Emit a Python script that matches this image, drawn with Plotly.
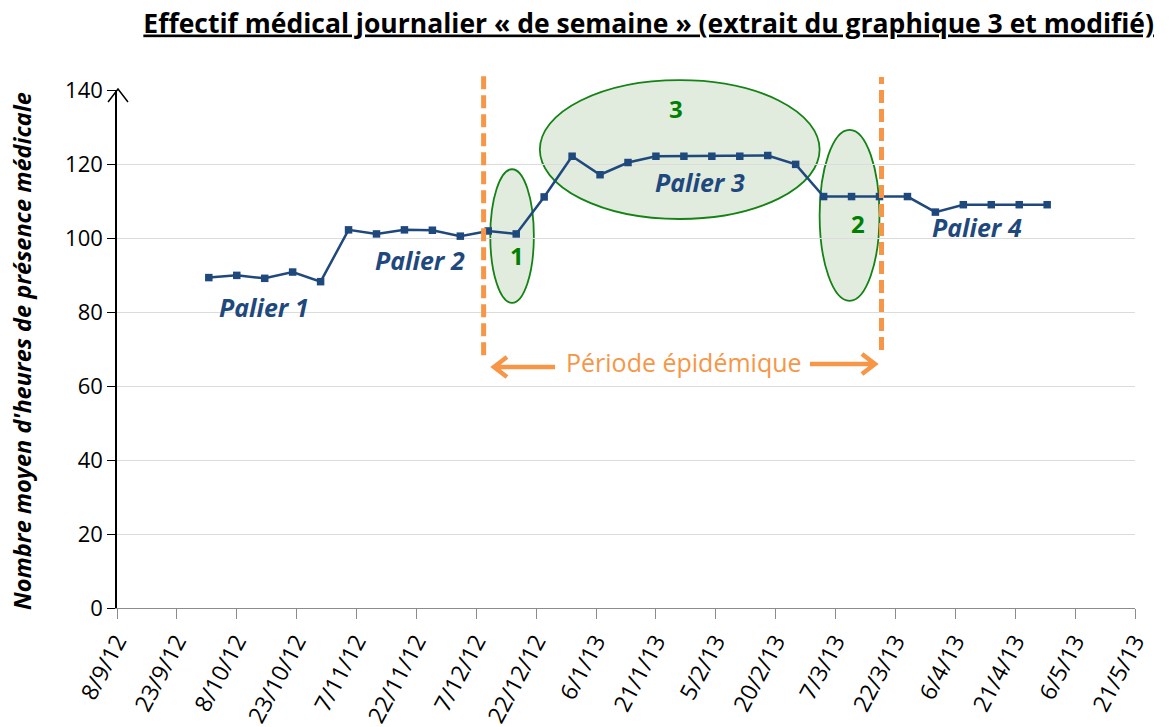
import plotly.graph_objects as go

# ---- data ----
dates = ["2012-10-01", "2012-10-08", "2012-10-15", "2012-10-22", "2012-10-29",
         "2012-11-05", "2012-11-12", "2012-11-19", "2012-11-26", "2012-12-03",
         "2012-12-10", "2012-12-17", "2012-12-24", "2012-12-31", "2013-01-07",
         "2013-01-14", "2013-01-21", "2013-01-28", "2013-02-04", "2013-02-11",
         "2013-02-18", "2013-02-25", "2013-03-04", "2013-03-11", "2013-03-18",
         "2013-03-25", "2013-04-01", "2013-04-08", "2013-04-15", "2013-04-22",
         "2013-04-29"]
heures = [89.3, 89.9, 89.1, 90.8, 88.2, 102.2, 101.1, 102.2, 102.1, 100.5,
          101.9, 101.1, 111.1, 122.1, 117.1, 120.4, 122.1, 122.1, 122.1, 122.1,
          122.3, 119.9, 111.2, 111.2, 111.2, 111.2, 107.0, 109.0, 109.0, 109.0,
          109.0]
tick_dates = ["2012-09-08", "2012-09-23", "2012-10-08", "2012-10-23", "2012-11-07",
              "2012-11-22", "2012-12-07", "2012-12-22", "2013-01-06", "2013-01-21",
              "2013-02-05", "2013-02-20", "2013-03-07", "2013-03-22", "2013-04-06",
              "2013-04-21", "2013-05-06", "2013-05-21"]
tick_labels = ["8/9/12", "23/9/12", "8/10/12", "23/10/12", "7/11/12", "22/11/12",
               "7/12/12", "22/12/12", "6/1/13", "21/1/13", "5/2/13", "20/2/13",
               "7/3/13", "22/3/13", "6/4/13", "21/4/13", "6/5/13", "21/5/13"]
epidemic_bounds = ["2012-12-08 20:00", "2013-03-18 12:00"]
palier_labels = ["Palier 1", "Palier 2", "Palier 3", "Palier 4"]
palier_x = ["2012-10-14 17:00", "2012-11-23", "2013-02-01", "2013-04-11 12:00"]
palier_y = [81.4, 94.1, 115.2, 103.0]
zone_labels = ["1", "3", "2"]
zone_x = ["2012-12-17 07:00", "2013-01-25 22:00", "2013-03-12 12:00"]
zone_y = [95.2, 134.9, 103.9]
zone_x0 = ["2012-12-10 12:00", "2012-12-22 22:00", "2013-03-03"]
zone_x1 = ["2012-12-21 10:00", "2013-03-03", "2013-03-18"]

FONT = "Open Sans"
BLUE = "#1F497D"
ORANGE = "#F79646"
GREEN = "rgb(0,128,0)"

fig = go.Figure()
fig.add_trace(go.Scatter(
    x=dates, y=heures, mode="lines+markers",
    line=dict(color=BLUE, width=2.5),
    marker=dict(symbol="square", size=7.5, color=BLUE),
    showlegend=False, hoverinfo="skip"))

shapes = []
zone_y0 = [0.589, 0.751, 0.593]
zone_y1 = [0.847, 1.019, 0.923]
for x0, x1, y0, y1 in zip(zone_x0, zone_x1, zone_y0, zone_y1):
    shapes.append(dict(type="circle", xref="x", yref="paper", x0=x0, x1=x1, y0=y0, y1=y1,
                       fillcolor="rgba(120,170,110,0.22)",
                       line=dict(color="rgb(20,130,20)", width=1.8), layer="between"))
for xb, y0, y1 in zip(epidemic_bounds, [0.488, 0.498], [1.029, 1.025]):
    shapes.append(dict(type="line", xref="x", yref="paper", x0=xb, x1=xb, y0=y0, y1=y1,
                       line=dict(color=ORANGE, width=5, dash="13px,6px"), layer="above"))
shapes.append(dict(type="path", xref="paper", yref="paper",
                   path="M 0.4303,0.4653 L 0.3713,0.4653 M 0.3831,0.4846 L 0.3703,0.4653 L 0.3831,0.4459",
                   line=dict(color=ORANGE, width=4.5)))
shapes.append(dict(type="path", xref="paper", yref="paper",
                   path="M 0.6807,0.4710 L 0.7436,0.4710 M 0.7318,0.4903 L 0.7446,0.4710 L 0.7318,0.4517",
                   line=dict(color=ORANGE, width=4.5)))
shapes.append(dict(type="path", xref="paper", yref="paper",
                   path="M -0.0088,0.9768 L 0.00098,1.0019 L 0.0108,0.9768",
                   line=dict(color="black", width=1.5)))

annotations = []
for t, x, y in zip(palier_labels, palier_x, palier_y):
    annotations.append(dict(text="<b><i>%s</i></b>" % t, x=x, y=y, xref="x", yref="y",
                            showarrow=False, font=dict(family=FONT, size=25, color=BLUE)))
for t, x, y in zip(zone_labels, zone_x, zone_y):
    annotations.append(dict(text="<b>%s</b>" % t, x=x, y=y, xref="x", yref="y",
                            showarrow=False, font=dict(family=FONT, size=24, color=GREEN)))
annotations.append(dict(text="Période épidémique", x="2013-01-27 22:00", y=66.4,
                        xref="x", yref="y", showarrow=False,
                        font=dict(family=FONT, size=25, color=ORANGE)))
annotations.append(dict(text="<b><i>Nombre moyen d'heures de présence médicale</i></b>",
                        x=(22 - 117) / 1018, y=(608 - 351) / 518, xref="paper", yref="paper",
                        showarrow=False, textangle=-90, xanchor="center", yanchor="middle",
                        font=dict(family=FONT, size=23.5, color="black")))

fig.update_layout(
    width=1173, height=727,
    margin=dict(l=117, r=38, t=90, b=119, autoexpand=False),
    paper_bgcolor="white", plot_bgcolor="white",
    title=dict(text="<b><u>Effectif médical journalier « de semaine » (extrait du graphique 3 et modifié)</u></b>",
               x=0.553, xref="container", xanchor="center", y=0.968, yanchor="middle",
               font=dict(family=FONT, size=26.5, color="black")),
    shapes=shapes, annotations=annotations,
    xaxis=dict(type="date", range=["2012-09-08", "2013-05-21"], automargin=False,
               tickvals=tick_dates, ticktext=tick_labels, tickangle=-62,
               showgrid=False, showline=True, linecolor="#8C8C8C", linewidth=1,
               ticks="outside", ticklen=10, tickcolor="#8C8C8C",
               tickfont=dict(family=FONT, size=23, color="black"), zeroline=False),
    yaxis=dict(range=[0, 140], tickvals=[0, 20, 40, 60, 80, 100, 120, 140], automargin=False,
               showgrid=True, gridcolor="#DCDCDC", gridwidth=1,
               showline=True, linecolor="black", linewidth=1.5,
               ticks="outside", ticklen=8, tickcolor="black",
               tickfont=dict(family=FONT, size=22, color="black"), zeroline=False),
)

fig.write_html("out.html", config={"displayModeBar": False},
               post_script="document.body.style.margin='0px';")
